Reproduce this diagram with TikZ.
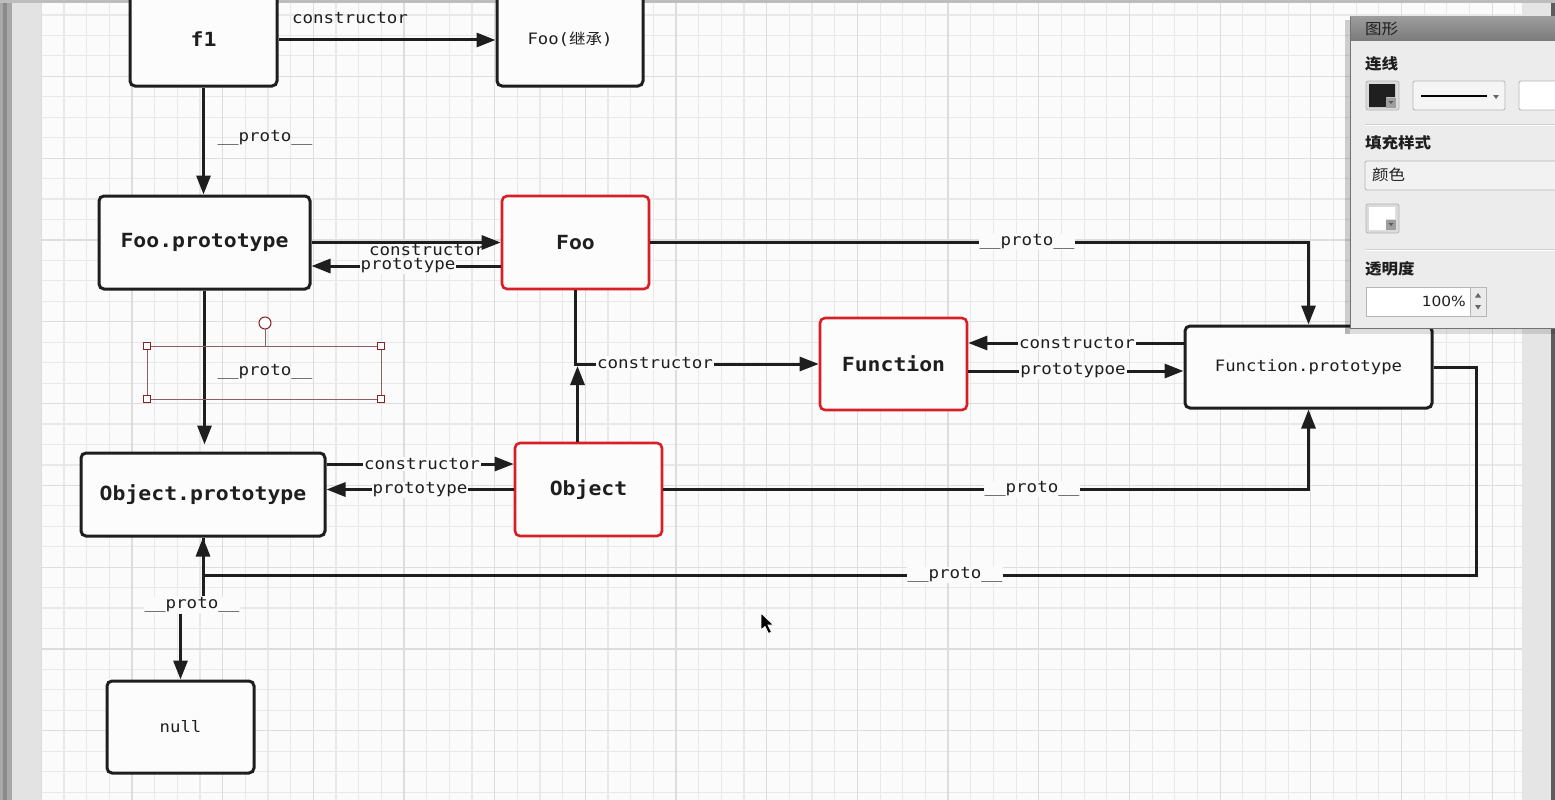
\documentclass[tikz,border=0pt]{standalone}
\usepackage{fontspec}
\usetikzlibrary{arrows.meta}
\newfontfamily\mono[FakeStretch=1.1]{DejaVu Sans Mono}
\newfontfamily\cjk[FakeStretch=1.1]{Noto Sans CJK SC}
\newfontfamily\uisans[FakeStretch=1.1]{DejaVu Sans}
\newcommand\boxbold{\mono\bfseries\fontsize{19.5}{22}\selectfont}
\newcommand\boxplain{\mono\fontsize{15.7}{18}\selectfont}
\newcommand\cjkplain{\cjk\fontsize{15}{18}\selectfont}
\newcommand\lblfont{\mono\fontsize{15.9}{18}\selectfont}
\newcommand\panelhead{\cjk\bfseries\fontsize{15}{18}\selectfont}
\newcommand\panelui{\cjk\fontsize{15}{18}\selectfont}
\newcommand\panelnum{\uisans\fontsize{14}{17}\selectfont}

\definecolor{ink}{HTML}{1E1E1E}
\definecolor{boxred}{HTML}{D61F26}
\definecolor{canvas}{HTML}{FBFBFB}
\definecolor{boxfill}{HTML}{FCFCFC}
\definecolor{gridminor}{HTML}{E9E9E9}
\definecolor{gridmajor}{HTML}{DDDDDD}
\definecolor{selline}{HTML}{8A6060}
\definecolor{selhandle}{HTML}{8B2020}
\definecolor{panelbg}{HTML}{ECECEC}
\definecolor{paneledge}{HTML}{B5B5B5}
\definecolor{titletop}{HTML}{9C9C9C}
\definecolor{titlebot}{HTML}{7A7A7A}

\tikzset{
  box/.style={draw=ink, line width=3pt, rounded corners=5pt, fill=boxfill,
              inner sep=0pt, anchor=center, text=ink},
  redbox/.style={box, draw=boxred, line width=2.6pt},
  conn/.style={draw=ink, line width=3pt},
  arr/.style={conn, -{Triangle[length=19pt,width=14pt]}},
  lbl/.style={font=\lblfont, text=ink, inner sep=1pt},
  lblf/.style={lbl, fill=canvas},
  ctrl/.style={draw=paneledge, line width=0.8pt, rounded corners=2pt},
  handle/.style={draw=selhandle, fill=white, line width=1pt}
}

\begin{document}
\begin{tikzpicture}[x=1pt,y=-1pt]
\useasboundingbox (0,0) rectangle (1555,800);
\clip (0,0) rectangle (1555,800);

% window frame around the drawing canvas
\fill[black!34] (0,0) rectangle (12,800);
\fill[black!46] (3,0) rectangle (7,800);
\fill[black!11] (12,0) rectangle (41,800);
\fill[canvas] (41,0) rectangle (1522,800);
\fill[black!10] (1522,0) rectangle (1551,800);
\fill[black!64] (1551,0) rectangle (1555,800);

% grid
\foreach \i in {0,...,65}
  \draw[gridminor, line width=1.2pt] ({41.3+22.67*\i},3) -- ({41.3+22.67*\i},800);
\foreach \k in {0,...,38}
  \draw[gridminor, line width=1.2pt] (41,{15+20.45*\k}) -- (1522,{15+20.45*\k});
\foreach \i in {0,...,16}
  \draw[gridmajor, line width=1.3pt] ({41.3+90.68*\i},3) -- ({41.3+90.68*\i},800);
\foreach \k in {0,...,8}
  \draw[gridmajor, line width=1.3pt] (41,{76.35+81.8*\k}) -- (1522,{76.35+81.8*\k});
\fill[black!26] (0,0) rectangle (1555,3);

% objects
\node[box, minimum width=147pt, minimum height=94pt] (f1) at (203.5,39) {\boxbold f1};
\node[box, minimum width=146pt, minimum height=94pt] (fooinh) at (570,39) {\boxplain Foo({\cjkplain 继承})};
\node[box, minimum width=211pt, minimum height=93pt] (fooproto) at (204.5,242.5) {\boxbold Foo.prototype};
\node[redbox, minimum width=147pt, minimum height=93pt] (foo) at (575.5,242.5) {\boxbold Foo};
\node[redbox, minimum width=147pt, minimum height=92pt] (func) at (893.5,364) {\boxbold Function};
\node[box, minimum width=247pt, minimum height=82pt] (funcproto) at (1308.5,367) {\boxplain Function.prototype};
\node[box, minimum width=244pt, minimum height=83pt] (objproto) at (203,494.5) {\boxbold Object.prototype};
\node[redbox, minimum width=147pt, minimum height=93pt] (object) at (588.5,489.5) {\boxbold Object};
\node[box, minimum width=147pt, minimum height=92pt] (nul) at (180.5,727) {\boxplain null};

% links
\draw[arr] ([yshift=-1pt]f1.east) -- ([yshift=-1pt]fooinh.west);
\draw[arr] (f1.south) -- (f1.south |- fooproto.north);
\draw[arr] (fooproto.east) -- (foo.west);
\draw[arr] ([yshift=-23.5pt]foo.west) -- ([yshift=-23.5pt]foo.west -| fooproto.east);
\draw[arr] (foo.east) -| (funcproto.north);
\draw[arr, shorten >=7pt] (fooproto.south) -- (fooproto.south |- objproto.north);
\draw[arr] ([yshift=30.5pt]objproto.east) -- ([yshift=30.5pt]objproto.east -| object.west);
\draw[arr] (object.west) -- (object.west -| objproto.east);
\coordinate (bend) at (foo.south |- func.west);
\draw[arr] (foo.south) -- (bend) -- (func.west);
\draw[arr] ([xshift=2pt]bend |- object.north) -- ([xshift=2pt,yshift=-2pt]bend);
\draw[arr] ([yshift=24pt]funcproto.west) -- ([yshift=24pt]funcproto.west -| func.east);
\draw[arr] ([yshift=-7pt]func.east) -- ([yshift=-7pt]func.east -| funcproto.west);
\draw[arr] (object.east) -| (funcproto.south);
\coordinate (loop) at (1476,575);
\draw[arr] (funcproto.east) -| (loop) -| (objproto.south);
\draw[conn] (objproto.south) -- ++(0,58);

% link labels
\node[lbl] (l1) at (350,18) {constructor};
\node[lbl] (l2) at (265,138) {\_\_proto\_\_};
\node[lbl] (l3) at (427,250) {constructor};
\node[lblf] (l4) at (408,266) {prototype};
\node[lblf] (l5) at (1027,242) {\_\_proto\_\_};
\node[lbl] (l6) at (265,372) {\_\_proto\_\_};
\node[lblf] (l7) at (422,464) {constructor};
\node[lblf] (l8) at (420,490) {prototype};
\node[lblf] (l9) at (655,363) {constructor};
\node[lblf] (l10) at (1077,343) {constructor};
\node[lblf] (l11) at (1073,371) {prototypoe};
\node[lblf] (l12) at (1032,489) {\_\_proto\_\_};
\node[lblf] (l13) at (955,575) {\_\_proto\_\_};
\node[lblf] (l14) at (192,605) {\_\_proto\_\_};
\draw[arr] (l14.south -| nul.north) -- (nul.north);

% selection frame on the label of the middle link
\draw[selline, line width=1pt] (147,346) rectangle (381,399);
\draw[selline, line width=1pt] (265,329) -- (265,346);
\draw[handle] (265,323) circle (6pt);
\foreach \p in {(147,346),(381,346),(147,399),(381,399)}
  \draw[handle] \p ++(-3.5,-3.5) rectangle ++(7,7);

% mouse pointer
\fill[black, draw=white, line width=0.8pt] (761,613) -- (761,630) -- (765,626.5)
  -- (768.5,633.5) -- (771.5,632) -- (768,625) -- (773.5,625) -- cycle;

% shape inspector panel
\fill[black, opacity=0.18] (1345,20) rectangle (1350,334);
\fill[black, opacity=0.12] (1345,328) rectangle (1555,334);
\fill[panelbg] (1350,17) rectangle (1555,328);
\shade[top color=titletop, bottom color=titlebot] (1350,17) rectangle (1555,41);
\draw[black!55, line width=1pt] (1350,17) -- (1350,328) -- (1555,328);
\node[anchor=west, font=\panelui, text=ink, inner sep=0pt] (ptitle) at (1365,29) {图形};

\node[anchor=west, font=\panelhead, text=ink, inner sep=0pt] (h1) at (1365,64) {连线};
\draw[ctrl, fill=black!14] (1366,81) rectangle (1399,110);
\fill[black!88] (1369,84) -- (1395,84) -- (1395,97) -- (1386,97) -- (1386,107) -- (1369,107) -- cycle;
\fill[black!38] (1386,98) rectangle (1396,108);
\fill[black!65] (1388.5,101) -- (1393.5,101) -- (1391,104) -- cycle;
\draw[ctrl, fill=black!4] (1413,81) rectangle (1505,110);
\draw[black, line width=2.5pt] (1421,96) -- (1487,96);
\fill[black!60] (1493,95) -- (1499,95) -- (1496,99) -- cycle;
\draw[ctrl, fill=white] (1519,81) rectangle (1570,110);
\draw[black!18, line width=1pt] (1365,124) -- (1555,124);
\draw[white, line width=1pt] (1365,125.2) -- (1555,125.2);

\node[anchor=west, font=\panelhead, text=ink, inner sep=0pt] (h2) at (1365,143) {填充样式};
\draw[ctrl, fill=black!5] (1365,161) rectangle (1570,190);
\node[anchor=west, font=\panelui, text=ink, inner sep=0pt] (fillmode) at (1372,175) {颜色};
\draw[ctrl, fill=black!14] (1366,204) rectangle (1399,233);
\fill[white] (1369,207) -- (1395,207) -- (1395,219) -- (1386,219) -- (1386,230) -- (1369,230) -- cycle;
\fill[black!38] (1386,220) rectangle (1396,230);
\fill[black!65] (1388.5,223) -- (1393.5,223) -- (1391,226) -- cycle;
\draw[black!18, line width=1pt] (1365,249) -- (1555,249);
\draw[white, line width=1pt] (1365,250.2) -- (1555,250.2);

\node[anchor=west, font=\panelhead, text=ink, inner sep=0pt] (h3) at (1365,269) {透明度};
\draw[ctrl, fill=white, rounded corners=0pt] (1366,287) rectangle (1470,316);
\node[anchor=east, font=\panelnum, text=ink, inner sep=0pt] (pct) at (1466,301) {100\%};
\draw[ctrl, fill=black!8, rounded corners=0pt] (1470,287) rectangle (1486,316);
\fill[black!60] (1478,293) -- (1475,297.5) -- (1481,297.5) -- cycle;
\fill[black!60] (1475,305) -- (1481,305) -- (1478,309.5) -- cycle;
\end{tikzpicture}
\end{document}
